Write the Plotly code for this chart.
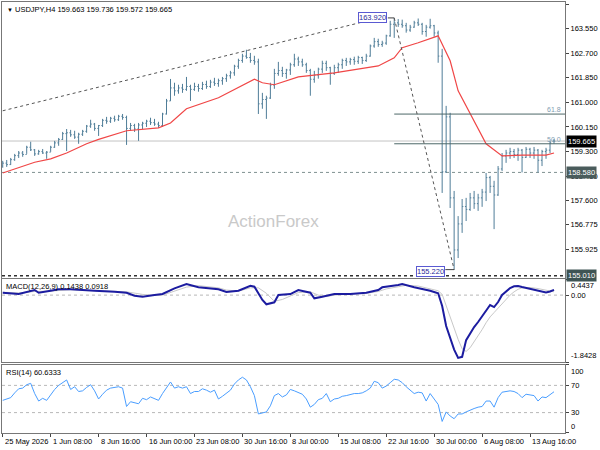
import plotly.graph_objects as go

# DATA
tick_labels = ["25 May 2026", "1 Jun 08:00", "8 Jun 16:00", "16 Jun 00:00", "23 Jun 08:00",
               "30 Jun 16:00", "8 Jul 00:00", "15 Jul 08:00", "22 Jul 16:00", "30 Jul 00:00",
               "6 Aug 08:00", "13 Aug 16:00"]

opens = [158.80, 158.90, 158.85, 159.02, 159.16, 159.25, 159.20, 159.45, 159.36, 159.22,
         159.30, 159.25, 159.28, 159.45, 159.60, 159.72, 159.92, 159.95, 159.88, 159.80,
         159.90, 160.00, 160.18, 160.25, 160.10, 160.20, 160.38, 160.35, 160.45, 160.40,
         160.52, 160.48, 160.10, 160.20, 160.08, 160.22, 160.28, 160.35, 160.30, 160.25,
         160.20, 160.60, 161.05, 161.50, 161.40, 161.50, 161.45, 161.55, 161.45, 161.55,
         161.48, 161.62, 161.55, 161.70, 161.65, 161.75, 161.82, 161.92, 162.02, 162.25,
         162.45, 162.60, 162.55, 162.45, 162.40, 160.95, 161.10, 161.15, 161.60, 162.00,
         162.10, 162.00, 162.12, 162.30, 162.50, 162.40, 162.30, 162.10, 161.80, 161.95,
         162.15, 162.35, 162.20, 162.00, 162.20, 162.30, 162.45, 162.40, 162.48, 162.42,
         162.55, 162.45, 162.60, 162.95, 163.10, 163.00, 163.05, 163.30, 163.70, 163.75,
         163.70, 163.65, 163.50, 163.60, 163.75, 163.70, 163.45, 163.60, 163.65, 163.40,
         162.60, 158.60, 160.50, 157.70, 155.90, 156.80, 157.40, 157.30, 157.70, 157.50,
         157.70, 157.90, 158.40, 158.10, 157.80, 158.70, 159.15, 159.25, 159.30, 159.20,
         159.35, 159.10, 159.38, 159.25, 159.35, 159.00, 159.30, 159.35, 159.663]
highs = [158.98, 159.01, 159.08, 159.22, 159.32, 159.32, 159.50, 159.64, 159.39, 159.36,
         159.39, 159.32, 159.50, 159.67, 159.77, 159.98, 160.08, 160.05, 160.02, 159.95,
         160.05, 160.22, 160.40, 160.29, 160.22, 160.43, 160.50, 160.50, 160.54, 160.57,
         160.60, 160.54, 160.29, 160.26, 160.29, 160.33, 160.40, 160.47, 160.43, 160.33,
         160.64, 161.12, 161.81, 161.68, 161.61, 161.64, 161.88, 161.61, 161.68, 161.64,
         161.71, 161.75, 161.78, 161.85, 161.82, 161.88, 161.99, 162.09, 162.30, 162.51,
         162.68, 162.82, 162.71, 162.61, 162.51, 161.33, 161.23, 161.68, 162.16, 162.40,
         162.23, 162.16, 162.37, 162.68, 162.58, 162.51, 162.37, 162.16, 162.09, 162.20,
         162.44, 162.44, 162.23, 162.30, 162.37, 162.51, 162.54, 162.54, 162.58, 162.61,
         162.58, 162.68, 163.00, 163.23, 163.20, 163.13, 163.34, 163.82, 163.92, 163.88,
         163.86, 163.75, 163.68, 163.82, 163.90, 163.75, 163.68, 163.89, 163.68, 163.48,
         162.85, 160.88, 160.64, 157.94, 157.07, 157.66, 157.70, 157.87, 157.94, 157.84,
         158.01, 158.56, 158.46, 158.29, 158.80, 159.25, 159.36, 159.43, 159.39, 159.43,
         159.39, 159.46, 159.43, 159.46, 159.39, 159.36, 159.43, 159.67, 159.736]
lows = [158.74, 158.77, 158.84, 158.98, 159.08, 159.12, 159.22, 159.32, 159.15, 159.19,
        159.22, 159.05, 159.29, 159.43, 159.50, 159.70, 159.32, 159.81, 159.74, 159.57,
        159.84, 159.95, 160.12, 160.02, 159.84, 160.15, 160.26, 160.29, 160.33, 160.36,
        160.40, 159.53, 160.02, 159.98, 159.67, 160.08, 160.15, 160.22, 160.19, 160.12,
        160.15, 160.58, 161.05, 161.23, 161.30, 161.33, 161.40, 161.05, 161.40, 161.37,
        161.43, 161.47, 161.50, 161.57, 161.54, 161.61, 161.71, 161.82, 161.92, 162.16,
        162.37, 162.51, 162.37, 162.30, 160.60, 160.78, 160.43, 161.12, 161.47, 161.92,
        161.88, 161.82, 161.95, 162.23, 162.26, 162.23, 162.02, 161.23, 161.68, 161.82,
        162.02, 162.09, 161.61, 161.95, 162.02, 162.16, 162.26, 162.30, 162.30, 162.33,
        162.33, 162.40, 162.58, 162.89, 162.92, 162.92, 162.99, 163.27, 163.23, 163.61,
        163.58, 163.41, 163.44, 163.58, 163.64, 163.34, 163.27, 163.55, 163.27, 162.37,
        157.87, 158.56, 157.35, 155.22, 155.62, 156.49, 156.90, 157.25, 157.32, 157.25,
        157.39, 157.59, 157.87, 156.62, 157.77, 158.63, 158.91, 159.05, 159.08, 158.98,
        158.58, 159.08, 159.08, 159.05, 158.58, 158.80, 159.05, 159.25, 159.572]
closes = [158.90, 158.85, 159.02, 159.16, 159.25, 159.20, 159.45, 159.36, 159.22, 159.30,
          159.25, 159.28, 159.45, 159.60, 159.72, 159.92, 159.95, 159.88, 159.80, 159.90,
          160.00, 160.18, 160.25, 160.10, 160.20, 160.38, 160.35, 160.45, 160.40, 160.52,
          160.48, 160.10, 160.20, 160.08, 160.22, 160.28, 160.35, 160.30, 160.25, 160.20,
          160.60, 161.05, 161.50, 161.40, 161.50, 161.45, 161.55, 161.45, 161.55, 161.48,
          161.62, 161.55, 161.70, 161.65, 161.75, 161.82, 161.92, 162.02, 162.25, 162.45,
          162.60, 162.55, 162.45, 162.40, 160.95, 161.10, 161.15, 161.60, 162.00, 162.10,
          162.00, 162.12, 162.30, 162.50, 162.40, 162.30, 162.10, 161.80, 161.95, 162.15,
          162.35, 162.20, 162.00, 162.20, 162.30, 162.45, 162.40, 162.48, 162.42, 162.55,
          162.45, 162.60, 162.95, 163.10, 163.00, 163.05, 163.30, 163.70, 163.75, 163.70,
          163.65, 163.50, 163.60, 163.75, 163.70, 163.45, 163.60, 163.65, 163.40, 162.60,
          158.60, 160.50, 157.70, 155.90, 156.80, 157.40, 157.30, 157.70, 157.50, 157.70,
          157.90, 158.40, 158.10, 157.80, 158.70, 159.15, 159.25, 159.30, 159.20, 159.35,
          159.10, 159.38, 159.25, 159.35, 159.00, 159.30, 159.35, 159.60, 159.665]

ma_idx = [0, 8, 12, 16, 21, 24, 31, 39, 42, 46, 54, 59, 63, 65, 68, 74, 83, 94, 98, 100,
          104, 109, 112, 114, 118, 121, 125, 130, 136, 138]
ma_vals = [158.56, 158.93, 159.05, 159.25, 159.57, 159.72, 160.02, 160.12, 160.29, 160.78,
           161.16, 161.50, 161.80, 161.68, 161.61, 161.88, 162.02, 162.26, 162.54, 162.89,
           163.06, 163.30, 162.44, 161.40, 160.36, 159.57, 159.15, 159.18, 159.18, 159.25]

macd_idx = [0, 4, 8, 9, 12, 14, 17, 19, 23, 28, 31, 33, 35, 38, 40, 43, 46, 49, 54, 56,
            59, 62, 63, 65, 66, 68, 69, 72, 74, 77, 78, 80, 83, 87, 91, 94, 95, 99, 100, 103,
            107, 109, 110, 111, 112, 113, 114, 115, 116, 117, 118, 119, 120, 121, 122, 123,
            124, 125, 126, 127, 128, 129, 130, 131, 132, 133, 134, 135, 136, 137, 138]
macd_vals = [0.066, 0.030, 0.141, 0.066, 0.121, 0.160, 0.160, 0.141, 0.121, 0.094,
             0.066, -0.016, -0.044, 0.003, 0.030, 0.187, 0.306, 0.215, 0.160, 0.086,
             0.121, 0.259, 0.231, -0.135, -0.253, -0.198, 0.003, 0.030, 0.141, 0.066,
             -0.088, -0.044, 0.030, 0.030, 0.066, 0.141, 0.215, 0.278, 0.306, 0.215,
             0.121, 0.050, -0.30, -0.85, -1.15, -1.50, -1.73, -1.70, -1.24, -1.044,
             -0.879, -0.741, -0.576, -0.410, -0.273, -0.328, -0.190, 0.003, 0.113, 0.196,
             0.243, 0.251, 0.223, 0.196, 0.182, 0.154, 0.127, 0.086, 0.072, 0.099, 0.1438]
sig_idx = [0, 4, 8, 12, 17, 23, 28, 31, 35, 38, 40, 43, 46, 49, 54, 56, 59, 62, 64, 66,
           68, 70, 72, 74, 77, 79, 81, 83, 87, 91, 94, 96, 99, 101, 104, 107, 109, 110, 111, 112,
           113, 114, 115, 116, 117, 118, 119, 120, 121, 122, 123, 124, 125, 126, 127, 128,
           129, 130, 132, 134, 136, 138]
sig_vals = [0.08, 0.06, 0.10, 0.11, 0.15, 0.13, 0.11, 0.09, 0.02, -0.01,
            0.00, 0.10, 0.22, 0.26, 0.20, 0.14, 0.11, 0.20, 0.20, 0.05,
            -0.17, -0.12, -0.02, 0.07, 0.09, 0.00, -0.04, 0.00, 0.03, 0.05,
            0.10, 0.17, 0.23, 0.27, 0.25, 0.17, 0.12, 0.02, -0.30, -0.62,
            -0.95, -1.22, -1.48, -1.55, -1.45, -1.28, -1.14, -0.95, -0.76, -0.60,
            -0.48, -0.36, -0.22, -0.10, 0.00, 0.09, 0.16, 0.20, 0.21, 0.18,
            0.13, 0.0918]
macd_top, macd_bottom = 0.4437, -1.8428

rsi_vals = [48, 50, 52, 59, 65, 66, 71, 73, 58, 47,
            51, 48, 56, 64, 70, 74, 78, 64, 68, 61,
            62, 67, 71, 62, 50, 57, 63, 66, 67, 68,
            66, 39, 46, 45, 43, 51, 49, 53, 50, 48,
            58, 67, 75, 66, 68, 66, 68, 58, 61, 61,
            65, 63, 60, 63, 50, 54, 59, 63, 72, 78,
            82, 78, 68, 55, 28, 30, 31, 40, 55, 58,
            53, 56, 64, 62, 59, 57, 50, 38, 42, 49,
            51, 58, 46, 50, 51, 54, 55, 57, 58, 58,
            59, 62, 66, 76, 74, 66, 69, 74, 79, 78,
            74, 68, 63, 58, 60, 59, 47, 58, 50, 42,
            17, 31, 25, 21, 28, 28, 31, 34, 36, 38,
            39, 47, 47, 38, 52, 60, 61, 62, 61, 58,
            52, 57, 56, 55, 47, 53, 52, 57, 60.6333]

price_ticks = [164.400, 163.550, 162.700, 161.850, 161.000, 160.150, 159.300, 158.450,
               157.600, 156.775, 155.925]
trend_x = [0, 92.5]
trend_y = [160.71, 163.86]
support_level = 158.58
base_level = 155.01

bar_idx = list(range(len(closes)))
tick_pos = [12 * k for k in range(len(tick_labels))]

# fibonacci from swing high to swing low
fib_hi = max(highs)
fib_lo = min(lows)
peak_i = highs.index(fib_hi)
low_i = lows.index(fib_lo)
fib_levels = {"61.8": fib_lo + 0.618 * (fib_hi - fib_lo), "50.0": fib_lo + 0.5 * (fib_hi - fib_lo)}

bar_color = "#4f7d98"
border = "#777777"
FONT = "Liberation Sans"
x_range = [-0.18, 140.75]

fig = go.Figure()
fig.add_trace(go.Ohlc(x=bar_idx, open=opens, high=highs, low=lows, close=closes,
                      increasing_line_color=bar_color, decreasing_line_color=bar_color,
                      line_width=1, tickwidth=0.3, xaxis="x", yaxis="y"))
fig.add_trace(go.Scatter(x=ma_idx, y=ma_vals, mode="lines", line=dict(color="#f04646", width=1.2),
                         xaxis="x", yaxis="y"))
fig.add_trace(go.Scatter(x=sig_idx, y=sig_vals, mode="lines", line=dict(color="#c8c8c8", width=1),
                         xaxis="x2", yaxis="y2"))
fig.add_trace(go.Scatter(x=macd_idx, y=macd_vals, mode="lines", line=dict(color="#1c1ca0", width=2),
                         xaxis="x2", yaxis="y2"))
fig.add_trace(go.Scatter(x=bar_idx, y=rsi_vals, mode="lines", line=dict(color="#4a9eff", width=1),
                         xaxis="x3", yaxis="y3"))

def hline(y, yref, color, dash="solid", width=1, layer="below"):
    xr = "x domain" if yref == "y" else yref.replace("y", "x") + " domain"
    fig.add_shape(type="line", xref=xr, yref=yref, x0=0, x1=1, y0=y, y1=y,
                  line=dict(color=color, width=width, dash=dash), layer=layer)

hline(closes[-1], "y", "#c4c4c4")
hline(support_level, "y", "#7f9090", dash="dot")
hline(base_level, "y", "#303030", dash="dot", width=1.5)
hline(0, "y2", "#b8b8b8", dash="dot")
hline(70, "y3", "#b8b8b8", dash="dot")
hline(30, "y3", "#b8b8b8", dash="dot")

for name, lvl in fib_levels.items():
    fig.add_shape(type="line", xref="x", yref="y", x0=peak_i, x1=x_range[1], y0=lvl, y1=lvl,
                  line=dict(color="#4d6868", width=1))
    fig.add_annotation(xref="paper", yref="y", x=1, y=lvl, text=name, showarrow=False,
                       xanchor="right", yanchor="bottom", xshift=-2, yshift=-1,
                       font=dict(family=FONT, size=7, color="#7f9db2"))

fig.add_shape(type="line", xref="x", yref="y", x0=peak_i, y0=fib_hi, x1=low_i, y1=fib_lo,
              line=dict(color="#555555", width=1, dash="dot"))
fig.add_shape(type="line", xref="x", yref="y", x0=trend_x[0], y0=trend_y[0], x1=trend_x[1], y1=trend_y[1],
              line=dict(color="#555555", width=1, dash="dot"))
fig.add_shape(type="line", xref="x", yref="y", x0=peak_i - 1.6, y0=fib_hi, x1=peak_i, y1=fib_hi,
              line=dict(color="#404040", width=1))
fig.add_shape(type="line", xref="x", yref="y", x0=low_i - 2.2, y0=fib_lo, x1=low_i, y1=fib_lo,
              line=dict(color="#404040", width=1))

box = dict(showarrow=False, bgcolor="white", bordercolor="#5a5ad2", borderwidth=1, borderpad=0,
           font=dict(family=FONT, size=7.5, color="#2a2a9a"), xanchor="right", yanchor="middle")
fig.add_annotation(x=peak_i, y=fib_hi, xref="x", yref="y", text=f"{fib_hi:.3f}", xshift=-7, **box)
fig.add_annotation(x=low_i, y=fib_lo, xref="x", yref="y", text=f"{fib_lo:.3f}", xshift=-9, yshift=-2, **box)

# right-hand price boxes
for val, bg in [(closes[-1], "#000000"), (support_level, "#4a5c5c"), (base_level, "#3f5454")]:
    fig.add_annotation(xref="paper", yref="y", x=1, y=val, text=f"{val:.3f}", showarrow=False,
                       xanchor="left", yanchor="middle", xshift=1, bgcolor=bg, borderpad=1,
                       font=dict(family=FONT, size=7.5, color="white"))

# MACD / RSI scale labels
side = dict(xref="paper", x=1, xanchor="left", xshift=4, showarrow=False,
            font=dict(family=FONT, size=7.5, color="black"))
fig.add_annotation(yref="y2", y=macd_top, text=f"{macd_top:.4f}", yanchor="top", **side)
fig.add_annotation(yref="y2", y=0, text="0.00", yanchor="middle", **side)
fig.add_annotation(yref="y2", y=macd_bottom, text=f"{macd_bottom:.4f}", yanchor="bottom", **side)
fig.add_annotation(yref="y3", y=100, text="100", yanchor="top", **side)
fig.add_annotation(yref="y3", y=70, text="70", yanchor="middle", **side)
fig.add_annotation(yref="y3", y=30, text="30", yanchor="middle", **side)
fig.add_annotation(yref="y3", y=0, text="0", yanchor="bottom", **side)

# panel titles
title = (f"<span style='font-size:6px'>▼</span> USDJPY,H4 {opens[-1]:.3f} {highs[-1]:.3f} "
         f"{lows[-1]:.3f} {closes[-1]:.3f}")
fig.add_annotation(xref="x domain", yref="y domain", x=0, y=1, text=title, showarrow=False,
                   xanchor="left", yanchor="top", xshift=3, yshift=-1,
                   font=dict(family=FONT, size=7.5, color="black"))
fig.add_annotation(xref="x2 domain", yref="y2 domain", x=0, y=1,
                   text=f"MACD(12,26,9) {macd_vals[-1]:.4f} {sig_vals[-1]:.4f}", showarrow=False,
                   xanchor="left", yanchor="top", xshift=2, yshift=-1,
                   font=dict(family=FONT, size=7.5, color="black"))
fig.add_annotation(xref="x3 domain", yref="y3 domain", x=0, y=1,
                   text=f"RSI(14) {rsi_vals[-1]:.4f}", showarrow=False,
                   xanchor="left", yanchor="top", xshift=2, yshift=-1,
                   font=dict(family=FONT, size=7.5, color="black"))

# watermark
fig.add_annotation(xref="paper", yref="paper", x=0.482, y=0.49, text="ActionForex", showarrow=False,
                   font=dict(family=FONT, size=17, color="#c9c9c9"))

# time labels, left aligned at their tick like the terminal does
for pos, lab in zip(tick_pos, tick_labels):
    fig.add_annotation(xref="x3", yref="paper", x=pos, y=0, text=lab, showarrow=False,
                       xanchor="left", yanchor="top", xshift=0, yshift=-2,
                       font=dict(family=FONT, size=7.5, color="black"))

xbase = dict(range=x_range, showgrid=False, zeroline=False, showline=True, mirror=True,
             linecolor=border, linewidth=1, showticklabels=False)
ybase = dict(side="right", showgrid=False, zeroline=False, showline=True, mirror=True,
             linecolor=border, linewidth=1, ticks="outside", ticklen=3, tickcolor="#444444",
             automargin=False)

fig.update_layout(
    width=600, height=450, margin=dict(l=2, r=35, t=2, b=17),
    paper_bgcolor="white", plot_bgcolor="white", showlegend=False,
    font=dict(family=FONT, size=7.5, color="black"),
    xaxis=dict(anchor="y", rangeslider=dict(visible=False), **xbase),
    xaxis2=dict(anchor="y2", matches="x", **xbase),
    xaxis3=dict(anchor="y3", matches="x", ticks="outside", ticklen=3, tickcolor="#444444",
                tickvals=tick_pos, **xbase),
    yaxis=dict(domain=[0.3596, 1], range=[154.93, 164.47], tickvals=price_ticks,
               ticktext=[f"{v:.3f}" for v in price_ticks], tickfont=dict(size=7.5), **ybase),
    yaxis2=dict(domain=[0.1647, 0.3573], range=[macd_bottom, macd_top],
                tickvals=[macd_top, 0, macd_bottom], showticklabels=False, **ybase),
    yaxis3=dict(domain=[0, 0.1578], range=[0, 100], tickvals=[100, 70, 30, 0],
                showticklabels=False, **ybase),
)

# the page's default body margin would push the 600x450 figure off the window
fig.write_html("out.html", config={"displayModeBar": False},
               post_script="document.body.style.margin='0';")
